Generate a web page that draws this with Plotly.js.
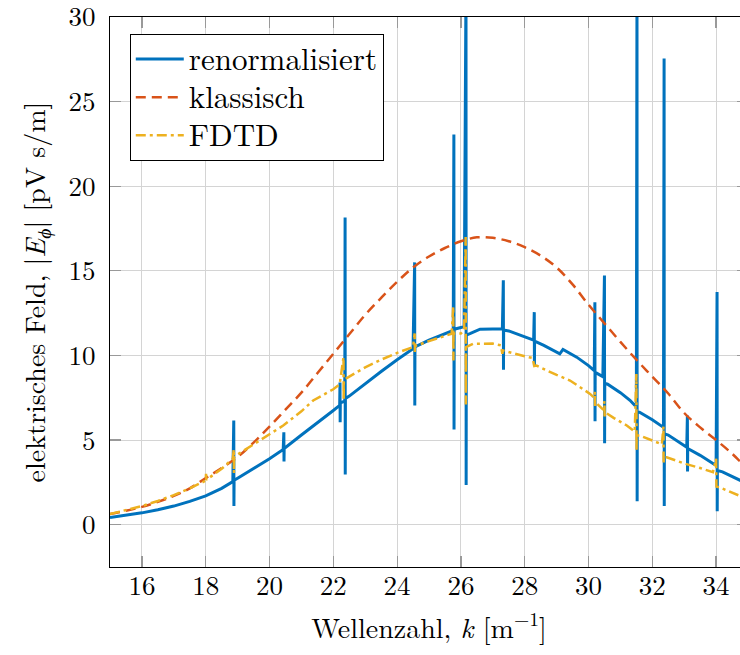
<!DOCTYPE html>
<html>
<head>
<meta charset="utf-8">
<script src="https://cdn.plot.ly/plotly-3.0.1.min.js"></script>
<style>
html,body{margin:0;padding:0;overflow:hidden;background:#fff;}
#chart{width:760px;height:655px;}
</style>
</head>
<body>
<div id="chart"></div>
<script>
// Wellenzahl k [1/m] and |E_phi| [pV s/m]
const kRenorm = [15,15.5,16,16.5,17,17.5,18,18.5,18.85,18.88,18.885,18.89,19,19.5,20,20.43,20.45,20.455,20.46,21,21.5,22,22.2,22.21,22.215,22.22,22.36,22.37,22.375,22.38,22.5,23,23.5,24,24.5,24.55,24.555,24.56,25,25.5,25.76,25.78,25.785,25.79,26,26.1,26.16,26.165,26.17,26.3,26.6,27,27.3,27.33,27.335,27.34,27.5,28,28.28,28.3,28.305,28.31,28.6,29,29.1,29.2,29.4,29.63,30,30.18,30.2,30.205,30.21,30.45,30.5,30.505,30.51,30.6,31,31.3,31.5,31.52,31.525,31.53,31.6,32,32.35,32.37,32.375,32.38,32.5,33,33.08,33.1,33.105,33.11,33.5,33.9,34,34.03,34.035,34.04,34.2,34.5,35];
const eRenorm = [0.43,0.55,0.7,0.88,1.1,1.38,1.7,2.15,2.55,6.15,1.1,2.62,2.75,3.3,3.9,4.45,5.46,3.73,4.5,5.3,6.0,6.75,7.05,8.4,6.05,7.2,7.3,18.15,2.96,7.45,7.6,8.35,9.05,9.75,10.4,15.5,7.04,10.5,10.9,11.3,11.48,23.06,5.62,11.55,11.65,11.7,32,2.35,11.2,11.3,11.55,11.57,11.57,14.44,9.15,11.5,11.45,11.1,10.9,12.56,9.4,10.85,10.6,10.2,10.1,10.36,10.15,9.9,9.4,9.1,13.15,6.11,9.0,8.75,14.73,4.81,8.35,8.3,7.8,7.35,6.95,32,1.38,6.65,6.65,6.2,5.75,27.55,1.1,5.37,5.3,4.65,4.57,6.45,3.15,4.5,4.1,3.6,3.5,13.75,0.79,3.2,3.12,2.85,2.4];

const kKlass = [15,15.5,16,16.5,17,17.5,18,18.5,19,19.5,20,20.5,21,21.5,22,22.5,23,23.5,24,24.5,25,25.5,26,26.5,27,27.5,28,28.5,29,29.5,30,30.5,31,31.5,32,32.5,33,33.5,34,34.5,35];
const eKlass = [0.63,0.82,1.05,1.35,1.7,2.15,2.75,3.35,4.0,4.85,5.8,6.8,7.8,8.95,10.1,11.25,12.4,13.4,14.35,15.2,15.85,16.35,16.75,16.98,16.95,16.75,16.4,15.9,15.2,14.2,13.0,11.9,10.8,9.75,8.75,7.75,6.6,5.75,5.0,4.2,3.25];

const kFdtd = [15,15.5,16,16.5,17,17.5,17.8,18,18.01,18.02,18.5,18.85,18.88,18.885,18.89,19,19.5,20,20.43,21,21.37,22,22.2,22.32,22.325,22.33,22.5,23,23.5,24,24.5,24.55,24.555,24.56,25,25.5,25.71,25.76,25.765,25.77,26,26.1,26.15,26.155,26.16,26.38,27,27.25,27.3,27.31,27.5,28,28.25,28.3,28.37,28.7,29,29.42,29.8,30.05,30.18,30.2,30.205,30.21,30.46,30.5,30.505,30.51,30.8,31.2,31.45,31.5,31.505,31.51,31.61,32,32.3,32.35,32.355,32.36,32.45,33,33.5,33.9,34,34.005,34.01,34.12,34.5,35];
const eFdtd = [0.63,0.85,1.1,1.4,1.75,2.15,2.45,2.6,3.0,2.65,3.3,3.9,4.47,3.05,3.98,4.15,4.75,5.35,5.86,6.7,7.34,8.0,8.3,9.9,7.34,8.55,8.75,9.3,9.75,10.15,10.5,11.3,10.2,10.55,10.85,11.15,11.28,12.9,9.7,11.3,11.3,11.5,17.0,7.1,10.5,10.69,10.7,10.6,10.1,10.3,10.2,9.95,9.85,9.37,9.4,9.1,8.85,8.52,8.05,7.73,7.5,7.85,6.9,7.25,6.8,7.3,6.3,6.65,6.3,5.86,5.5,8.9,4.38,5.27,5.27,4.95,4.75,5.8,3.59,3.98,3.98,3.62,3.35,3.1,3.9,2.27,2.25,2.2,1.9,1.5];

const seriesNames = ['renormalisiert', 'klassisch', 'FDTD'];
const xTicks = [16,18,20,22,24,26,28,30,32,34];
const yTicks = [0,5,10,15,20,25,30];

const FONT = 'Latin Modern Roman';
const legendLabel = s => '<span style="font-size:31px">' + s + '</span>';

const traces = [
  {x:kRenorm, y:eRenorm, name:legendLabel(seriesNames[0]), mode:'lines', line:{color:'#0072BD', width:3}},
  {x:kKlass, y:eKlass, name:legendLabel(seriesNames[1]), mode:'lines', line:{color:'#D95319', width:2.5, dash:'10px,6px', shape:'spline'}},
  {x:kFdtd, y:eFdtd, name:legendLabel(seriesNames[2]), mode:'lines', line:{color:'#EDB120', width:2.5, dash:'10px,4px,3px,4px'}}
];

function axisBase(){
  return {
    showgrid:true, gridcolor:'#d4d4d4', gridwidth:1,
    showline:true, linecolor:'#000', linewidth:1.2, mirror:'ticks',
    ticks:'inside', ticklen:11, tickcolor:'#999', tickwidth:1.2,
    ticklabeloverflow:'allow',
    zeroline:false, tickfont:{family:FONT, size:27, color:'#000'}
  };
}

const xaxis = axisBase();
xaxis.range = [15,35];
xaxis.tickvals = xTicks;
xaxis.ticktext = xTicks.map(String);
xaxis.ticklabelstandoff = -6;
xaxis.title = {text:'Wellenzahl, <i>k</i> [m<sup>\u22121</sup>]', font:{family:FONT, size:28, color:'#000'}, standoff:16};

const yaxis = axisBase();
yaxis.range = [-2.5,30];
yaxis.tickvals = yTicks;
yaxis.ticktext = yTicks.map(String);
yaxis.ticklabelstandoff = 8;
yaxis.title = {text:'elektrisches Feld, |<i>E</i><sub><i>\u03d5</i></sub>| [pV s/m]', font:{family:FONT, size:28, color:'#000'}, standoff:14};

const layout = {
  width:760, height:655,
  margin:{l:110, r:12, t:17, b:88},
  paper_bgcolor:'#fff', plot_bgcolor:'#fff',
  font:{family:FONT, color:'#000', size:27},
  xaxis:xaxis, yaxis:yaxis,
  showlegend:true,
  legend:{x:0.031, y:0.969, xanchor:'left', yanchor:'top', bgcolor:'#fff',
    bordercolor:'#000', borderwidth:1, font:{family:FONT, size:27, color:'#000'},
    itemwidth:48, tracegroupgap:0}
};

Plotly.newPlot('chart', traces, layout, {displayModeBar:false, staticPlot:true});
</script>
</body>
</html>
